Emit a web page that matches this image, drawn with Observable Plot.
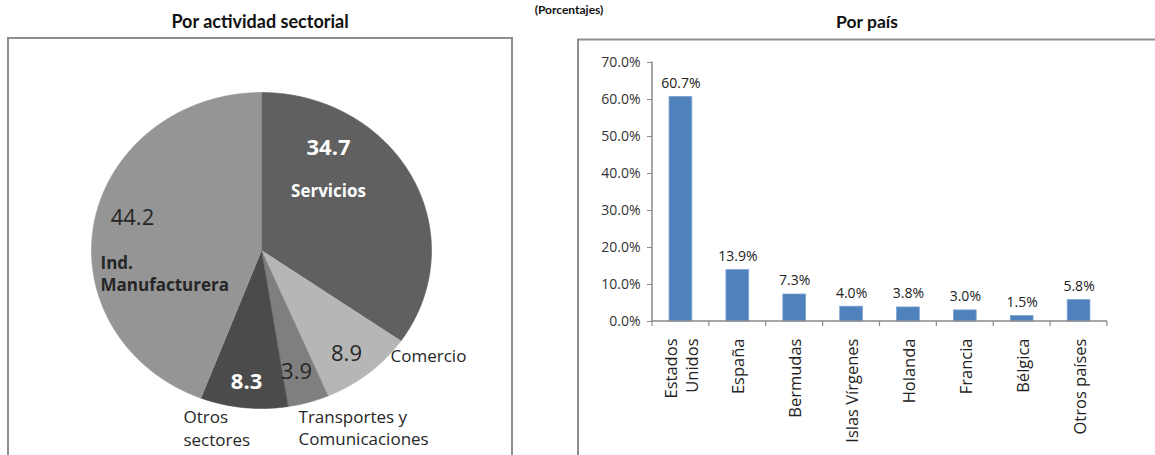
<!DOCTYPE html>
<html>
<head>
<meta charset="utf-8">
<script src="https://cdn.jsdelivr.net/npm/d3@7"></script>
<script src="https://cdn.jsdelivr.net/npm/@observablehq/plot@0.6"></script>
<style>
  body { margin: 0; background: #fff; }
  #root { position: relative; width: 1155px; height: 455px; overflow: hidden; background: #fff; }
  #pie, #bar, #overlay { position: absolute; top: 0; }
  #pie { left: 0; }
  #bar { left: 577px; }
  #overlay { left: 0; pointer-events: none; }
</style>
</head>
<body>
<div id="root">
  <div id="pie"></div>
  <div id="bar"></div>
  <svg id="overlay" width="1155" height="455" xmlns="http://www.w3.org/2000/svg">
    <rect x="8" y="38" width="504" height="460" fill="none" stroke="#8e8e8e" stroke-width="2"/>
    <rect x="578" y="39.5" width="620" height="460" fill="none" stroke="#8e8e8e" stroke-width="2"/>
    <g font-family="Lato, 'Open Sans', sans-serif" font-weight="bold" fill="#111" text-anchor="middle">
      <text x="569" y="13.5" font-size="12">(Porcentajes)</text>
      <text x="260" y="28" font-size="18">Por actividad sectorial</text>
      <text x="867" y="28" font-size="17.5">Por país</text>
    </g>
  </svg>
</div>
<script>
// ---------- data ----------
const sectors = ["Servicios", "Comercio", "Transportes y\nComunicaciones", "Otros\nsectores", "Ind.\nManufacturera"];
const sectorShares = [34.7, 8.9, 3.9, 8.3, 44.2];

const countries = ["Estados\nUnidos", "España", "Bermudas", "Islas Vírgenes", "Holanda", "Francia", "Bélgica", "Otros países"];
const countryShares = [60.7, 13.9, 7.3, 4.0, 3.8, 3.0, 1.5, 5.8];
const yTicks = [0, 10, 20, 30, 40, 50, 60, 70];

// ---------- pie ----------
const sectorColors = ["#606060", "#b6b6b6", "#7f7f7f", "#4b4b4b", "#959595"];
const sectorRows = sectors.map((name, i) => ({name, share: sectorShares[i]}));
const arcs = d3.pie().sort(null).value(d => d.share)(sectorRows);
const piePoints = [];
for (const a of arcs) {
  piePoints.push({name: a.data.name, x: 0, y: 0});
  const n = Math.max(4, Math.ceil((a.endAngle - a.startAngle) / 0.01));
  for (let k = 0; k <= n; ++k) {
    const t = a.startAngle + (a.endAngle - a.startAngle) * k / n;
    piePoints.push({name: a.data.name, x: Math.sin(t), y: Math.cos(t)});
  }
}

// label layout (position in the pie's unit coordinates, and style)
const valueLayout = [
  {at: [0.394, 0.646], fill: "#ffffff", weight: "bold"},
  {at: [0.50, -0.652], fill: "#262626", weight: "normal"},
  {at: [0.206, -0.766], fill: "#262626", weight: "normal"},
  {at: [-0.088, -0.835], fill: "#ffffff", weight: "bold"},
  {at: [-0.759, 0.203], fill: "#262626", weight: "normal"}
];
const nameLayout = [
  {at: [0.394, 0.386], fill: "#ffffff", weight: "bold", anchor: "middle"},
  {at: [0.759, -0.658], fill: "#262626", weight: "normal", anchor: "start"},
  {at: [0.218, -1.117], fill: "#262626", weight: "normal", anchor: "start"},
  {at: [-0.459, -1.12], fill: "#262626", weight: "normal", anchor: "start"},
  {at: [-0.947, -0.142], fill: "#262626", weight: "bold", anchor: "start"}
];

const pieMarks = [
  Plot.line(piePoints, {x: "x", y: "y", z: "name", fill: "name", stroke: "name", strokeWidth: 0.6, curve: "linear"})
];
sectorRows.forEach((d, i) => {
  const v = valueLayout[i], l = nameLayout[i];
  pieMarks.push(Plot.text([d], {
    x: () => v.at[0], y: () => v.at[1], text: r => r.share.toFixed(1),
    fill: v.fill, fontWeight: v.weight, fontSize: 22, textAnchor: "middle"
  }));
  pieMarks.push(Plot.text([d], {
    x: () => l.at[0], y: () => l.at[1], text: r => r.name,
    fill: l.fill, fontWeight: l.weight, fontSize: 17, textAnchor: l.anchor, lineHeight: 1.3
  }));
});

const pie = Plot.plot({
  width: 520, height: 455,
  x: {domain: [-1, 1], range: [91, 431], axis: null},
  y: {domain: [-1, 1], range: [408, 92], axis: null},
  color: {domain: sectors, range: sectorColors},
  style: {fontFamily: "'Open Sans', sans-serif", background: "transparent"},
  marks: pieMarks
});
document.getElementById("pie").appendChild(pie);

// ---------- bars ----------
const countryRows = countries.map((country, i) => ({country, share: countryShares[i]}));

const axisLines = (index, scales, values, dim) => {
  const g = d3.create("svg:g").attr("stroke", "#8a8a8a").attr("fill", "none");
  const x0 = dim.marginLeft, x1 = dim.width - dim.marginRight;
  const yt = dim.marginTop, yb = dim.height - dim.marginBottom;
  g.append("path").attr("stroke-width", 1.5).attr("d", `M${x0},${yt - 0.5}V${yb}H${x1}`);
  const n = countries.length, step = (x1 - x0) / n;
  for (let i = 0; i <= n; ++i) {
    g.append("path").attr("stroke-width", 1.2).attr("d", `M${x0 + i * step},${yb}V${yb + 5}`);
  }
  return g.node();
};

const bar = Plot.plot({
  width: 578, height: 455,
  marginLeft: 75, marginRight: 48, marginTop: 62, marginBottom: 134,
  x: {domain: countries, paddingInner: 0.6, paddingOuter: 0.3, round: false, axis: null},
  y: {domain: [0, 70], axis: null},
  style: {fontFamily: "'Open Sans', sans-serif", color: "#333", background: "transparent"},
  marks: [
    Plot.barY(countryRows, {x: "country", y: "share", fill: "#4f81bd", stroke: "#7ea4d2", strokeWidth: 0.8}),
    Plot.axisY({ticks: yTicks, tickFormat: d => d.toFixed(1) + "%", tickSize: 5, tickPadding: 7,
                fontSize: 14, stroke: "#8a8a8a", label: null}),
    axisLines,
    Plot.text(countryRows, {x: "country", y: "share", text: d => d.share.toFixed(1) + "%",
                            dy: -9, lineAnchor: "bottom", fontSize: 14, fill: "#222"}),
    Plot.text(countryRows, {x: "country", frameAnchor: "bottom", text: "country", rotate: -90,
                            textAnchor: "end", lineAnchor: "middle", dy: 17, fontSize: 16.5,
                            lineHeight: 1.25, fill: "#222"})
  ]
});
document.getElementById("bar").appendChild(bar);
</script>
</body>
</html>
